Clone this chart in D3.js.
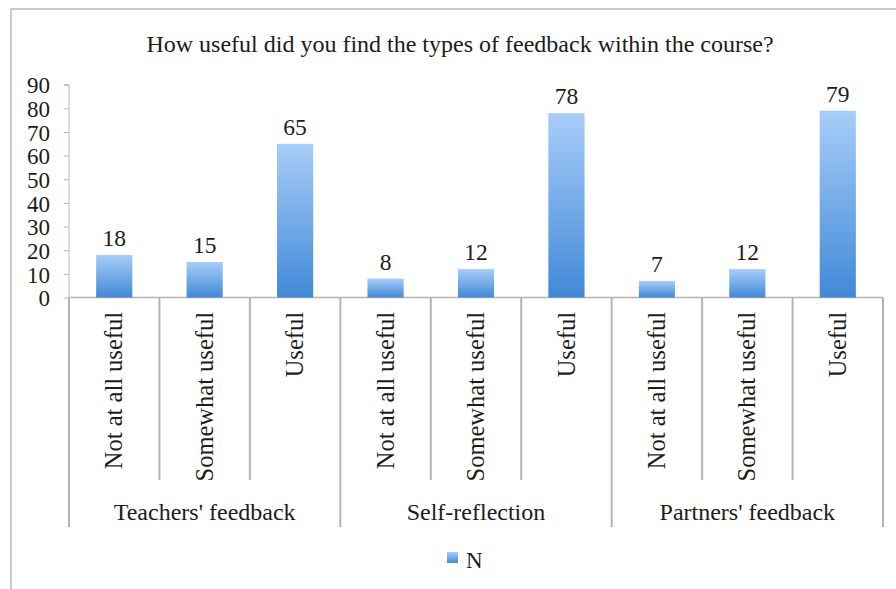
<!DOCTYPE html>
<html>
<head>
<meta charset="utf-8">
<script src="https://cdn.jsdelivr.net/npm/d3@7"></script>
<style>
  html, body { margin: 0; padding: 0; background: #fff; }
  svg { display: block; }
  text { font-family: "Liberation Serif", "Times New Roman", serif; fill: #1c1c1c; }
</style>
</head>
<body>
<svg id="chart" width="896" height="589"></svg>
<script>
const title = "How useful did you find the types of feedback within the course?";
const groups = ["Teachers' feedback", "Self-reflection", "Partners' feedback"];
const ratings = ["Not at all useful", "Somewhat useful", "Useful"];
const values = [18, 15, 65, 8, 12, 78, 7, 12, 79];
const yTicks = [0, 10, 20, 30, 40, 50, 60, 70, 80, 90];
const seriesName = "N";

const categories = [];
groups.forEach((g, gi) => ratings.forEach((r, ri) => categories.push({ key: g + "|" + r, group: g, rating: r, value: values[gi * ratings.length + ri] })));

const svg = d3.select("#chart");
const axisColor = "#b4b4b4";

// outer frame
svg.append("rect").attr("x", 11).attr("y", 9).attr("width", 900).attr("height", 600)
  .attr("fill", "none").attr("stroke", "#cbcbcb").attr("stroke-width", 2);

// gradient
const defs = svg.append("defs");
const grad = defs.append("linearGradient").attr("id", "barGrad").attr("x1", 0).attr("y1", 0).attr("x2", 0).attr("y2", 1);
grad.append("stop").attr("offset", "0%").attr("stop-color", "#a8cdf8");
grad.append("stop").attr("offset", "100%").attr("stop-color", "#4189d8");

const x0 = 69, x1 = 883, yBase = 297.5, yTop = 84.7;
const y = d3.scaleLinear().domain([0, 90]).range([yBase, yTop]);
const x = d3.scaleBand().domain(categories.map(d => d.key)).range([x0, x1]).paddingInner(0.6).paddingOuter(0.3);
const xSlot = d3.scaleBand().domain(categories.map(d => d.key)).range([x0, x1]).padding(0);
const xGroup = d3.scaleBand().domain(groups).range([x0, x1]).padding(0);

// title
svg.append("text").attr("x", 460).attr("y", 52).attr("text-anchor", "middle")
  .style("font-size", "24px").text(title);

// y axis
const yAxis = d3.axisLeft(y).tickValues(yTicks).tickSize(5).tickPadding(14).tickFormat(d3.format("d"));
const gy = svg.append("g").attr("transform", `translate(${x0},0)`).call(yAxis);
gy.select(".domain").attr("stroke", axisColor).attr("d", `M-5,${yTop}H0V${yBase}`);
gy.selectAll(".tick line").attr("stroke", axisColor);
gy.selectAll(".tick text").style("font-size", "23px").attr("fill", "#1c1c1c").attr("dy", "0.36em");
gy.attr("font-family", null).attr("font-size", null);

// x axis line
svg.append("line").attr("x1", x0).attr("x2", x1).attr("y1", yBase).attr("y2", yBase)
  .attr("stroke", axisColor).attr("stroke-width", 1.5);

// separators
const sepMinor = 480, sepMajor = 527;
const bounds = categories.map((d, i) => ({ x: xSlot(d.key), major: i % ratings.length === 0 }));
bounds.push({ x: x1, major: true });
svg.append("g").selectAll("line").data(bounds).join("line")
  .attr("x1", d => d.x).attr("x2", d => d.x)
  .attr("y1", yBase).attr("y2", d => d.major ? sepMajor : sepMinor)
  .attr("stroke", axisColor).attr("stroke-width", 2);

// bars
svg.append("g").selectAll("rect").data(categories).join("rect")
  .attr("x", d => x(d.key)).attr("width", x.bandwidth())
  .attr("y", d => y(d.value)).attr("height", d => y(0) - y(d.value))
  .attr("fill", "url(#barGrad)");

// value labels
svg.append("g").selectAll("text").data(categories).join("text")
  .attr("x", d => x(d.key) + x.bandwidth() / 2).attr("y", d => y(d.value) - 9)
  .attr("text-anchor", "middle").style("font-size", "23.5px").text(d => d.value);

// category labels (rotated)
svg.append("g").selectAll("text").data(categories).join("text")
  .attr("transform", d => `translate(${xSlot(d.key) + xSlot.bandwidth() / 2},312) rotate(-90)`)
  .attr("text-anchor", "end").attr("dy", "0.33em").style("font-size", "24.5px").text(d => d.rating);

// group labels
svg.append("g").selectAll("text").data(groups).join("text")
  .attr("x", d => xGroup(d) + xGroup.bandwidth() / 2).attr("y", 520)
  .attr("text-anchor", "middle").style("font-size", "24px").text(d => d);

// legend
const lg = svg.append("g").attr("transform", "translate(447,552)");
lg.append("rect").attr("width", 11).attr("height", 11).attr("fill", "url(#barGrad)");
lg.append("text").attr("x", 19).attr("y", 15.5).style("font-size", "23px").text(seriesName);
</script>
</body>
</html>
